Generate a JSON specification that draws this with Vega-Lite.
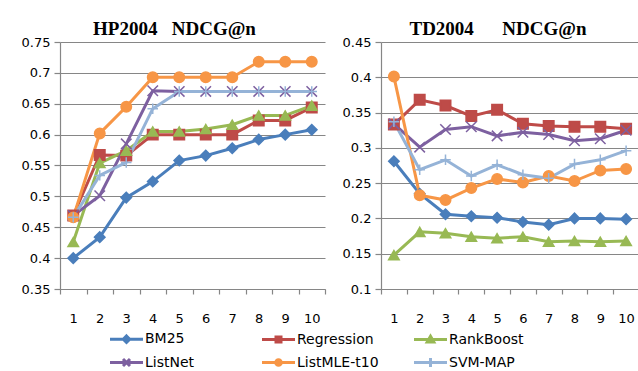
{
  "$schema": "https://vega.github.io/schema/vega-lite/v6.json",
  "padding": {"left": 21, "top": 20, "right": 0, "bottom": 0},
  "background": "white",
  "spacing": 16,
  "config": {
    "view": {"stroke": null},
    "font": "DejaVu Sans",
    "axis": {"labelFont": "DejaVu Sans", "labelFontSize": 13, "labelColor": "#000000", "domainColor": "#868686", "tickColor": "#868686", "gridColor": "#868686", "domainWidth": 1.2, "tickWidth": 1.2},
    "title": {"font": "Liberation Serif", "fontSize": 19, "fontWeight": "bold", "color": "#000000", "offset": -3},
    "legend": {"labelFont": "DejaVu Sans", "labelFontSize": 14, "labelColor": "#000000", "padding": 0}
  },
  "datasets": {
    "hp": [
      {"n": 1, "method": "BM25", "v": 0.400}, {"n": 2, "method": "BM25", "v": 0.434}, {"n": 3, "method": "BM25", "v": 0.498}, {"n": 4, "method": "BM25", "v": 0.524}, {"n": 5, "method": "BM25", "v": 0.558}, {"n": 6, "method": "BM25", "v": 0.566}, {"n": 7, "method": "BM25", "v": 0.578}, {"n": 8, "method": "BM25", "v": 0.592}, {"n": 9, "method": "BM25", "v": 0.600}, {"n": 10, "method": "BM25", "v": 0.608},
      {"n": 1, "method": "Regression", "v": 0.469}, {"n": 2, "method": "Regression", "v": 0.567}, {"n": 3, "method": "Regression", "v": 0.566}, {"n": 4, "method": "Regression", "v": 0.600}, {"n": 5, "method": "Regression", "v": 0.600}, {"n": 6, "method": "Regression", "v": 0.600}, {"n": 7, "method": "Regression", "v": 0.600}, {"n": 8, "method": "Regression", "v": 0.623}, {"n": 9, "method": "Regression", "v": 0.623}, {"n": 10, "method": "Regression", "v": 0.644},
      {"n": 1, "method": "RankBoost", "v": 0.426}, {"n": 2, "method": "RankBoost", "v": 0.554}, {"n": 3, "method": "RankBoost", "v": 0.574}, {"n": 4, "method": "RankBoost", "v": 0.605}, {"n": 5, "method": "RankBoost", "v": 0.605}, {"n": 6, "method": "RankBoost", "v": 0.609}, {"n": 7, "method": "RankBoost", "v": 0.616}, {"n": 8, "method": "RankBoost", "v": 0.631}, {"n": 9, "method": "RankBoost", "v": 0.631}, {"n": 10, "method": "RankBoost", "v": 0.647},
      {"n": 1, "method": "ListNet", "v": 0.469}, {"n": 2, "method": "ListNet", "v": 0.501}, {"n": 3, "method": "ListNet", "v": 0.585}, {"n": 4, "method": "ListNet", "v": 0.671}, {"n": 5, "method": "ListNet", "v": 0.670}, {"n": 6, "method": "ListNet", "v": 0.670}, {"n": 7, "method": "ListNet", "v": 0.670}, {"n": 8, "method": "ListNet", "v": 0.670}, {"n": 9, "method": "ListNet", "v": 0.670}, {"n": 10, "method": "ListNet", "v": 0.670},
      {"n": 1, "method": "ListMLE-t10", "v": 0.466}, {"n": 2, "method": "ListMLE-t10", "v": 0.602}, {"n": 3, "method": "ListMLE-t10", "v": 0.645}, {"n": 4, "method": "ListMLE-t10", "v": 0.693}, {"n": 5, "method": "ListMLE-t10", "v": 0.693}, {"n": 6, "method": "ListMLE-t10", "v": 0.693}, {"n": 7, "method": "ListMLE-t10", "v": 0.693}, {"n": 8, "method": "ListMLE-t10", "v": 0.718}, {"n": 9, "method": "ListMLE-t10", "v": 0.718}, {"n": 10, "method": "ListMLE-t10", "v": 0.718},
      {"n": 1, "method": "SVM-MAP", "v": 0.466}, {"n": 2, "method": "SVM-MAP", "v": 0.534}, {"n": 3, "method": "SVM-MAP", "v": 0.555}, {"n": 4, "method": "SVM-MAP", "v": 0.642}, {"n": 5, "method": "SVM-MAP", "v": 0.670}, {"n": 6, "method": "SVM-MAP", "v": 0.670}, {"n": 7, "method": "SVM-MAP", "v": 0.670}, {"n": 8, "method": "SVM-MAP", "v": 0.670}, {"n": 9, "method": "SVM-MAP", "v": 0.670}, {"n": 10, "method": "SVM-MAP", "v": 0.670}
    ],
    "td": [
      {"n": 1, "method": "BM25", "v": 0.281}, {"n": 2, "method": "BM25", "v": 0.235}, {"n": 3, "method": "BM25", "v": 0.206}, {"n": 4, "method": "BM25", "v": 0.203}, {"n": 5, "method": "BM25", "v": 0.201}, {"n": 6, "method": "BM25", "v": 0.195}, {"n": 7, "method": "BM25", "v": 0.191}, {"n": 8, "method": "BM25", "v": 0.200}, {"n": 9, "method": "BM25", "v": 0.200}, {"n": 10, "method": "BM25", "v": 0.199},
      {"n": 1, "method": "Regression", "v": 0.333}, {"n": 2, "method": "Regression", "v": 0.368}, {"n": 3, "method": "Regression", "v": 0.360}, {"n": 4, "method": "Regression", "v": 0.345}, {"n": 5, "method": "Regression", "v": 0.354}, {"n": 6, "method": "Regression", "v": 0.334}, {"n": 7, "method": "Regression", "v": 0.331}, {"n": 8, "method": "Regression", "v": 0.330}, {"n": 9, "method": "Regression", "v": 0.330}, {"n": 10, "method": "Regression", "v": 0.327},
      {"n": 1, "method": "RankBoost", "v": 0.148}, {"n": 2, "method": "RankBoost", "v": 0.181}, {"n": 3, "method": "RankBoost", "v": 0.179}, {"n": 4, "method": "RankBoost", "v": 0.174}, {"n": 5, "method": "RankBoost", "v": 0.172}, {"n": 6, "method": "RankBoost", "v": 0.174}, {"n": 7, "method": "RankBoost", "v": 0.167}, {"n": 8, "method": "RankBoost", "v": 0.168}, {"n": 9, "method": "RankBoost", "v": 0.167}, {"n": 10, "method": "RankBoost", "v": 0.168},
      {"n": 1, "method": "ListNet", "v": 0.334}, {"n": 2, "method": "ListNet", "v": 0.301}, {"n": 3, "method": "ListNet", "v": 0.326}, {"n": 4, "method": "ListNet", "v": 0.330}, {"n": 5, "method": "ListNet", "v": 0.317}, {"n": 6, "method": "ListNet", "v": 0.322}, {"n": 7, "method": "ListNet", "v": 0.319}, {"n": 8, "method": "ListNet", "v": 0.310}, {"n": 9, "method": "ListNet", "v": 0.313}, {"n": 10, "method": "ListNet", "v": 0.325},
      {"n": 1, "method": "ListMLE-t10", "v": 0.401}, {"n": 2, "method": "ListMLE-t10", "v": 0.233}, {"n": 3, "method": "ListMLE-t10", "v": 0.226}, {"n": 4, "method": "ListMLE-t10", "v": 0.243}, {"n": 5, "method": "ListMLE-t10", "v": 0.256}, {"n": 6, "method": "ListMLE-t10", "v": 0.251}, {"n": 7, "method": "ListMLE-t10", "v": 0.260}, {"n": 8, "method": "ListMLE-t10", "v": 0.253}, {"n": 9, "method": "ListMLE-t10", "v": 0.268}, {"n": 10, "method": "ListMLE-t10", "v": 0.270},
      {"n": 1, "method": "SVM-MAP", "v": 0.337}, {"n": 2, "method": "SVM-MAP", "v": 0.269}, {"n": 3, "method": "SVM-MAP", "v": 0.283}, {"n": 4, "method": "SVM-MAP", "v": 0.260}, {"n": 5, "method": "SVM-MAP", "v": 0.276}, {"n": 6, "method": "SVM-MAP", "v": 0.262}, {"n": 7, "method": "SVM-MAP", "v": 0.257}, {"n": 8, "method": "SVM-MAP", "v": 0.277}, {"n": 9, "method": "SVM-MAP", "v": 0.283}, {"n": 10, "method": "SVM-MAP", "v": 0.296}
    ]
  },
  "hconcat": [
    {
      "data": {"name": "hp"},
      "width": 265,
      "height": 247,
      "title": {"text": "HP2004\u00a0\u00a0\u00a0NDCG@n", "dx": -18},
      "encoding": {
        "x": {"field": "n", "type": "ordinal", "title": null, "scale": {"type": "band", "paddingInner": 0, "paddingOuter": 0}, "axis": {"labelAngle": 0, "tickBand": "extent", "tickSize": 5, "labelPadding": 18, "grid": false}},
        "y": {"field": "v", "type": "quantitative", "title": null, "scale": {"domain": [0.35, 0.75], "zero": false, "nice": false}, "axis": {"values": [0.35, 0.4, 0.45, 0.5, 0.55, 0.6, 0.65, 0.7, 0.75], "format": "~g", "grid": true, "tickSize": 6, "labelPadding": 4}}
      },
      "layer": [
        {
          "mark": {"type": "line", "strokeWidth": 3},
          "encoding": {"stroke": {"field": "method", "type": "nominal", "scale": {"domain": ["BM25", "Regression", "RankBoost", "ListNet", "ListMLE-t10", "SVM-MAP"], "range": ["#4A7EBB", "#BE4B48", "#98B954", "#7D60A0", "#F79646", "#95B3D7"]},
            "legend": {"title": null, "orient": "none", "legendX": 55, "legendY": 285, "columns": 3, "direction": "horizontal", "symbolSize": 400, "symbolStrokeWidth": 3, "symbolOpacity": 1, "labelOffset": 7, "columnPadding": 29, "rowPadding": 2, "gridAlign": "all"}}}
        },
        {
          "mark": {"type": "point", "filled": true, "opacity": 1, "size": 110, "strokeWidth": 1.5},
          "encoding": {
            "fill": {"field": "method", "type": "nominal", "scale": {"domain": ["BM25", "Regression", "RankBoost", "ListNet", "ListMLE-t10", "SVM-MAP"], "range": ["#4A7EBB", "#BE4B48", "#98B954", "#7D60A0", "#F79646", "#95B3D7"]},
              "legend": {"title": null, "orient": "none", "legendX": 55, "legendY": 285, "columns": 3, "direction": "horizontal", "symbolSize": 400, "symbolStrokeWidth": 3, "symbolOpacity": 1, "labelOffset": 7, "columnPadding": 29, "rowPadding": 2, "gridAlign": "all"}},
            "stroke": {"field": "method", "type": "nominal"},
            "shape": {"condition": [
              {"test": "datum.method === 'BM25'", "value": "diamond"},
              {"test": "datum.method === 'Regression'", "value": "square"},
              {"test": "datum.method === 'RankBoost'", "value": "triangle-up"},
              {"test": "datum.method === 'ListNet'", "value": "M-1,-1L1,1M-1,1L1,-1"},
              {"test": "datum.method === 'ListMLE-t10'", "value": "circle"}
            ], "value": "M-1,0H1M0,-1V1"}
          }
        },
        {
          "transform": [{"filter": "datum.n > 100"}],
          "mark": {"type": "point", "filled": true},
          "encoding": {
            "shape": {"field": "method", "type": "nominal", "scale": {"domain": ["BM25", "Regression", "RankBoost", "ListNet", "ListMLE-t10", "SVM-MAP"], "range": [
              "M-1.65,0H1.65M0,-0.32L0.32,0L0,0.32L-0.32,0Z",
              "M-1.65,0H1.65M-0.25,-0.25H0.25V0.25H-0.25Z",
              "M-1.65,0H1.65M0,-0.33L0.33,0.25H-0.33Z",
              "M-1.65,0H1.65M-0.35,-0.35L0.35,0.35M-0.35,0.35L0.35,-0.35",
              "M-1.65,0H1.65M0.28,0A0.28,0.28 0 1,1 -0.28,0A0.28,0.28 0 1,1 0.28,0Z",
              "M-1.65,0H1.65M0,-0.45V0.45"
            ]},
              "legend": {"title": null, "orient": "none", "legendX": 55, "legendY": 285, "columns": 3, "direction": "horizontal", "symbolSize": 400, "symbolStrokeWidth": 3, "symbolOpacity": 1, "labelOffset": 7, "columnPadding": 29, "rowPadding": 2, "gridAlign": "all"}}
          }
        }
      ]
    },
    {
      "data": {"name": "td"},
      "width": 258,
      "height": 247,
      "title": {"text": "TD2004\u00a0\u00a0\u00a0\u00a0\u00a0\u00a0NDCG@n", "dx": -12},
      "encoding": {
        "x": {"field": "n", "type": "ordinal", "title": null, "scale": {"type": "band", "paddingInner": 0, "paddingOuter": 0}, "axis": {"labelAngle": 0, "tickBand": "extent", "tickSize": 5, "labelPadding": 18, "grid": false}},
        "y": {"field": "v", "type": "quantitative", "title": null, "scale": {"domain": [0.1, 0.45], "zero": false, "nice": false}, "axis": {"values": [0.1, 0.15, 0.2, 0.25, 0.3, 0.35, 0.4, 0.45], "format": "~g", "grid": true, "tickSize": 6, "labelPadding": 4}}
      },
      "layer": [
        {
          "mark": {"type": "line", "strokeWidth": 3},
          "encoding": {"stroke": {"field": "method", "type": "nominal"}}
        },
        {
          "mark": {"type": "point", "filled": true, "opacity": 1, "size": 110, "strokeWidth": 1.5},
          "encoding": {
            "fill": {"field": "method", "type": "nominal"},
            "stroke": {"field": "method", "type": "nominal"},
            "shape": {"condition": [
              {"test": "datum.method === 'BM25'", "value": "diamond"},
              {"test": "datum.method === 'Regression'", "value": "square"},
              {"test": "datum.method === 'RankBoost'", "value": "triangle-up"},
              {"test": "datum.method === 'ListNet'", "value": "M-1,-1L1,1M-1,1L1,-1"},
              {"test": "datum.method === 'ListMLE-t10'", "value": "circle"}
            ], "value": "M-1,0H1M0,-1V1"}
          }
        }
      ]
    }
  ]
}
